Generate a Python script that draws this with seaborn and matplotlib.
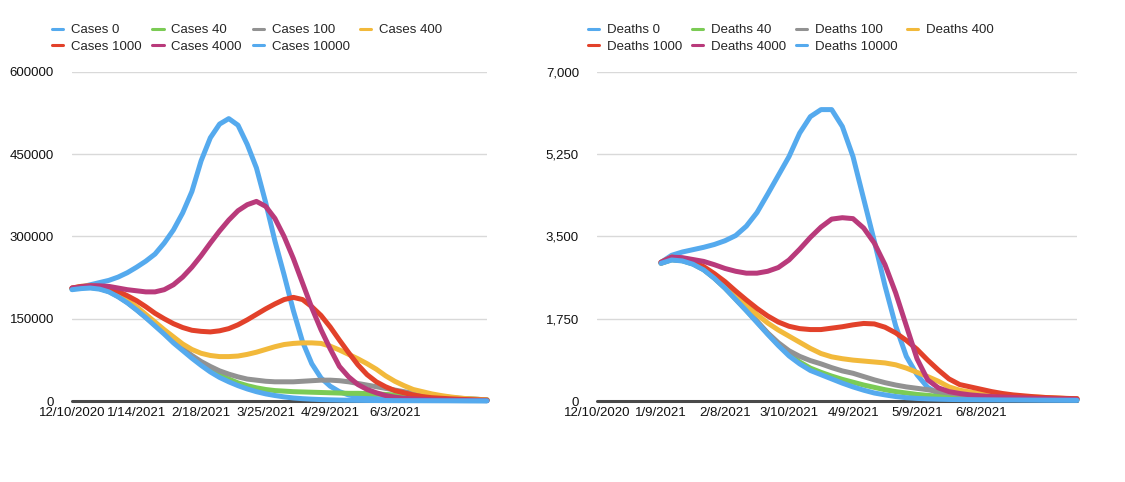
import matplotlib
matplotlib.use("Agg")
import matplotlib.pyplot as plt
from matplotlib.lines import Line2D
from matplotlib.ticker import FuncFormatter
import seaborn as sns
import pandas as pd

# ---- data (days since 12/10/2020, one value every 5 days) ----
case_days = [0, 5, 10, 15, 20, 25, 30, 35, 40, 45, 50, 55, 60, 65, 70, 75, 80, 85, 90, 95,
             100, 105, 110, 115, 120, 125, 130, 135, 140, 145, 150, 155, 160, 165, 170, 175,
             180, 185, 190, 195, 200, 205, 210, 215, 220, 225]
death_days = case_days[6:]

case_names = ["Cases 0", "Cases 40", "Cases 100", "Cases 400", "Cases 1000", "Cases 4000", "Cases 10000"]
death_names = ["Deaths 0", "Deaths 40", "Deaths 100", "Deaths 400", "Deaths 1000", "Deaths 4000", "Deaths 10000"]

cases_0 = [205000, 208000, 212000, 216000, 220000, 226000, 234000, 244000, 255000, 268000,
           288000, 312000, 343000, 382000, 438000, 480000, 505000, 515000, 503000, 468000,
           425000, 362000, 292000, 230000, 165000, 108000, 68000, 42000, 27000, 17000,
           11000, 8000, 6000, 4500, 3500, 2800, 2200, 1800, 1500, 1200,
           1000, 900, 800, 700, 600, 500]
cases_40 = [204000, 207000, 207000, 205000, 200000, 191000, 180000, 167000, 153000, 138500,
            123500, 108000, 94000, 81000, 69000, 58000, 48000, 40000, 33000, 28000,
            24000, 21000, 19000, 18000, 17000, 16500, 16000, 15500, 15000, 14500,
            14000, 14000, 13500, 13000, 12000, 11000, 10000, 9000, 8000, 7000,
            6000, 5000, 4000, 3500, 3000, 2000]
cases_100 = [205000, 208000, 208000, 205000, 200000, 191000, 180000, 167000, 153000, 139000,
             125000, 110000, 96000, 83000, 72000, 63000, 55000, 49000, 44000, 40000,
             38000, 36000, 35000, 35000, 35000, 36000, 37000, 38000, 38000, 37000,
             35000, 32000, 29000, 26000, 23000, 20000, 17000, 14000, 12000, 10000,
             8000, 6500, 5000, 4000, 3000, 2000]
cases_400 = [206000, 209000, 210000, 208000, 204000, 195000, 184000, 172000, 158000, 144000,
             130000, 117000, 104000, 94000, 87000, 83000, 81000, 81000, 82000, 85000,
             89000, 94000, 99000, 103000, 105000, 106000, 106000, 105000, 100000, 93000,
             85000, 77000, 68000, 58000, 46000, 36000, 28000, 21000, 17000, 13000,
             10000, 7500, 5500, 4000, 3000, 2000]
cases_1000 = [206000, 209000, 210000, 209000, 206000, 200000, 192000, 183000, 172000, 160000,
              150000, 141000, 134000, 129000, 127000, 126000, 128000, 132000, 139000, 148000,
              158000, 168000, 177000, 185000, 189000, 185000, 172000, 156000, 135000, 111000,
              88000, 66000, 48000, 35000, 26000, 19000, 15000, 11000, 8000, 6000,
              5000, 4000, 3200, 2500, 2000, 1500]
cases_4000 = [206000, 208000, 210000, 210000, 209000, 206000, 203000, 201000, 199000, 199000,
              203000, 212000, 226000, 244000, 265000, 288000, 310000, 330000, 347000, 358000,
              364000, 355000, 333000, 300000, 260000, 215000, 170000, 130000, 95000, 63000,
              44000, 30000, 21000, 15000, 10000, 7000, 5000, 3800, 3000, 2400,
              2000, 1700, 1400, 1200, 1000, 800]
cases_10000 = [203000, 205000, 206000, 204000, 199000, 190000, 179000, 166000, 152000, 137000,
               122000, 106000, 92000, 78000, 65000, 53000, 43000, 35000, 28000, 22000,
               17000, 13000, 10000, 7500, 5500, 4200, 3300, 2600, 2100, 1700,
               1400, 1200, 1000, 900, 800, 700, 650, 600, 550, 500,
               450, 400, 350, 300, 300, 300]

deaths_0 = [2950, 3100, 3170, 3220, 3270, 3330, 3410, 3520, 3720, 4010,
            4400, 4800, 5200, 5700, 6050, 6200, 6200, 5840, 5200, 4300,
            3400, 2450, 1600, 950, 560, 290, 160, 100, 70, 55,
            45, 40, 35, 32, 30, 28, 25, 23, 21, 20]
deaths_40 = [2930, 3005, 2985, 2915, 2795, 2615, 2405, 2170, 1930, 1685,
             1435, 1200, 990, 830, 700, 610, 530, 460, 400, 340,
             290, 240, 200, 170, 140, 120, 100, 90, 80, 70,
             60, 55, 50, 45, 42, 40, 38, 35, 32, 30]
deaths_100 = [2930, 3010, 2990, 2920, 2800, 2620, 2410, 2180, 1940, 1700,
              1450, 1240, 1070, 950, 860, 790, 710, 640, 590, 520,
              450, 390, 340, 300, 270, 240, 200, 170, 140, 120,
              100, 90, 80, 70, 62, 56, 50, 46, 42, 40]
deaths_400 = [2950, 3060, 3020, 2940, 2820, 2650, 2450, 2230, 2030, 1840,
              1660, 1510, 1380, 1250, 1120, 1010, 940, 900, 870, 850,
              830, 810, 770, 700, 610, 520, 420, 300, 230, 190,
              160, 140, 120, 105, 95, 85, 75, 65, 55, 50]
deaths_1000 = [2950, 3060, 3030, 2960, 2860, 2710, 2540, 2340, 2150, 1970,
               1810, 1680, 1590, 1540, 1520, 1520, 1550, 1580, 1620, 1650,
               1640, 1570, 1450, 1290, 1100, 870, 660, 470, 350, 300,
               250, 200, 160, 130, 110, 90, 75, 65, 55, 50]
deaths_4000 = [2950, 3060, 3050, 3010, 2970, 2900, 2820, 2760, 2720, 2720,
               2760, 2840, 3000, 3230, 3480, 3700, 3870, 3900, 3880, 3680,
               3360, 2900, 2300, 1600, 900, 450, 280, 200, 160, 130,
               110, 95, 85, 75, 65, 55, 50, 45, 40, 35]
deaths_10000 = [2930, 3000, 2980, 2910, 2790, 2610, 2400, 2160, 1920, 1670,
                1420, 1180, 960, 790, 650, 560, 470, 380, 300, 230,
                170, 130, 95, 70, 55, 45, 38, 33, 30, 28,
                26, 24, 22, 21, 20, 19, 18, 17, 16, 15]

case_tick_days = [0, 35, 70, 105, 140, 175]
case_tick_labels = ["12/10/2020", "1/14/2021", "2/18/2021", "3/25/2021", "4/29/2021", "6/3/2021"]
death_tick_days = [0, 30, 60, 90, 120, 150, 180]
death_tick_labels = ["12/10/2020", "1/9/2021", "2/8/2021", "3/10/2021", "4/9/2021", "5/9/2021", "6/8/2021"]
case_yticks = [0, 150000, 300000, 450000, 600000]
death_yticks = [0, 1750, 3500, 5250, 7000]

colors = ["#55AAEE", "#7BCB55", "#929292", "#F2B93B", "#E2412A", "#B93A7B", "#55AAEE"]

# ---- build long tables ----
case_series = [cases_0, cases_40, cases_100, cases_400, cases_1000, cases_4000, cases_10000]
death_series = [deaths_0, deaths_40, deaths_100, deaths_400, deaths_1000, deaths_4000, deaths_10000]

case_df = pd.concat([pd.DataFrame({"day": case_days, "value": s, "series": n})
                     for n, s in zip(case_names, case_series)], ignore_index=True)
death_df = pd.concat([pd.DataFrame({"day": death_days, "value": s, "series": n})
                      for n, s in zip(death_names, death_series)], ignore_index=True)

sns.set_style("white")
plt.rcParams["font.family"] = ["Liberation Sans", "DejaVu Sans"]

W, H = 1125, 482
fig = plt.figure(figsize=(W / 100, H / 100), dpi=100)
ax1 = fig.add_axes([72 / W, 81 / H, 415 / W, 329 / H])
ax2 = fig.add_axes([597 / W, 81 / H, 480 / W, 329 / H])

FS = 9.5
# row-major legend order (matplotlib fills columns first)
legend_order = [0, 4, 1, 5, 2, 6, 3]


def style(ax, df, names, yticks, tdays, tlabels, fmt, legend_x, colspace):
    sns.lineplot(data=df, x="day", y="value", hue="series", hue_order=names,
                 palette=colors, linewidth=3.6, legend=False, ax=ax, sort=False)
    for ln in ax.get_lines():
        ln.set_clip_on(False)
        ln.set_solid_joinstyle("round")
        ln.set_zorder(3)
    ax.set_xlim(0, 225)
    ax.set_ylim(0, yticks[-1])
    ax.set_yticks(yticks)
    ax.yaxis.set_major_formatter(FuncFormatter(fmt))
    ax.set_xticks(tdays)
    ax.set_xticklabels(tlabels)
    ax.grid(axis="y", color="#d9d9d9", linewidth=1.0)
    ax.grid(axis="x", visible=False)
    for sp in ax.spines.values():
        sp.set_visible(False)
    ax.axhline(0, color="#4a4a4a", linewidth=2.2, zorder=2.5, clip_on=False)
    ax.tick_params(axis="both", length=0, labelsize=FS, colors="#111111")
    ax.tick_params(axis="y", pad=13)
    ax.tick_params(axis="x", pad=4.5)
    ax.set_xlabel("")
    ax.set_ylabel("")
    handles = [Line2D([0], [0], color=colors[i], lw=2.2) for i in legend_order]
    labels = [names[i] for i in legend_order]
    ax.legend(handles, labels, ncols=4, frameon=False, loc="upper left",
              bbox_to_anchor=(legend_x / W, 1 - 24 / H), bbox_transform=fig.transFigure,
              fontsize=FS, handlelength=0.85, handletextpad=0.6, columnspacing=colspace,
              labelspacing=0.32, borderpad=0, borderaxespad=0)


style(ax1, case_df, case_names, case_yticks, case_tick_days, case_tick_labels,
      lambda v, p: f"{int(v)}", 52, 0.8)
style(ax2, death_df, death_names, death_yticks, death_tick_days, death_tick_labels,
      lambda v, p: f"{int(v):,}", 588, 0.72)

fig.savefig("out.png", dpi=100)
